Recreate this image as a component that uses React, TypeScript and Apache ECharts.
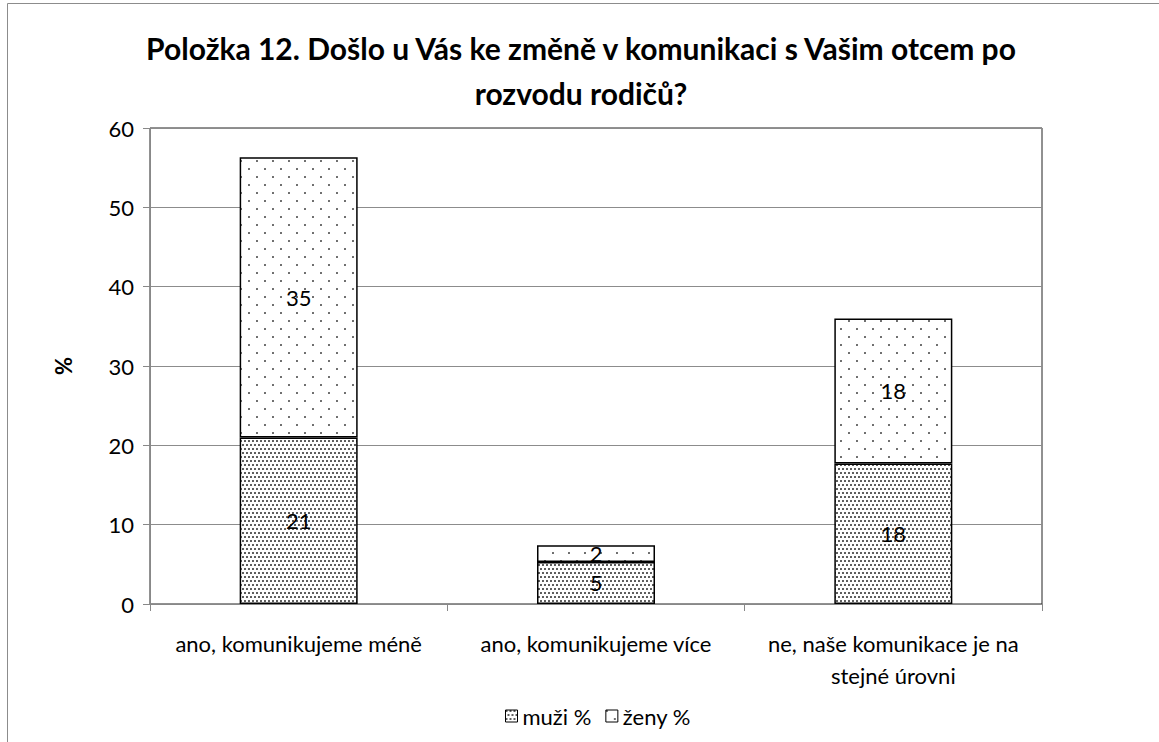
import React, { useEffect, useRef } from "react";
import * as echarts from "echarts";

const titleLines = [
  "Položka 12. Došlo u Vás ke změně v komunikaci s Vašim otcem po",
  "rozvodu rodičů?",
];
const categories = [
  "ano, komunikujeme méně",
  "ano, komunikujeme více",
  "ne, naše komunikace je na\nstejné úrovni",
];
const seriesNames = ["muži %", "ženy %"];
const muzi = [21.0, 5.3, 17.7];
const zeny = [35.3, 2.1, 18.3];
const yTicks = { min: 0, max: 60, interval: 10 };

const FONT = "Lato, 'Open Sans', sans-serif";

function makePattern(w: number, h: number, dots: [number, number][], color: string) {
  const c = document.createElement("canvas");
  c.width = w;
  c.height = h;
  const ctx = c.getContext("2d")!;
  ctx.fillStyle = "#ffffff";
  ctx.fillRect(0, 0, w, h);
  ctx.fillStyle = color;
  dots.forEach(([x, y]) => {
    ctx.beginPath();
    ctx.arc(x + 1, y + 1, 0.95, 0, Math.PI * 2);
    ctx.fill();
  });
  return c;
}

export default function App() {
  const ref = useRef<HTMLDivElement>(null);
  useEffect(() => {
    if (!ref.current) return;
    const chart = echarts.init(ref.current, undefined, { renderer: "svg" });
    const dense = makePattern(4, 8, [[0, 0], [2, 4]], "#1a1a1a");
    const sparse = makePattern(16, 16, [[0, 0], [8, 8]], "#333");
    const labelCfg = {
      show: true,
      position: "inside",
      color: "#000",
      fontSize: 22,
      fontFamily: FONT,
      formatter: (p: any) => String(Math.round(p.value)),
    };
    chart.setOption({
      animation: false,
      backgroundColor: "#fff",
      graphic: [
        {
          type: "rect",
          shape: { x: 7.5, y: 3.5, width: 1300, height: 900 },
          style: { fill: "none", stroke: "#8c8c8c", lineWidth: 1 },
          silent: true,
        },
        ...titleLines.map((t, i) => ({
          type: "text",
          x: 581,
          y: 48 + i * 45,
          style: {
            text: t,
            fill: "#000",
            font: `bold 30px ${FONT}`,
            textAlign: "center",
            textVerticalAlign: "middle",
          },
        })),
      ],
      grid: {
        left: 150,
        top: 128,
        right: 117,
        bottom: 138,
        show: true,
        borderColor: "#222",
        borderWidth: 1,
        backgroundColor: "transparent",
      },
      legend: {
        top: 700,
        left: 500,
        itemWidth: 12,
        itemHeight: 12,
        itemGap: 14,
        data: seriesNames.map((n) => ({ name: n, icon: "rect" })),
        itemStyle: { borderColor: "#000", borderWidth: 1 },
        textStyle: { fontSize: 22, fontFamily: FONT, color: "#000" },
      },
      xAxis: {
        type: "category",
        data: categories,
        axisLine: { lineStyle: { color: "#888", width: 1 } },
        axisTick: { show: true, length: 7, lineStyle: { color: "#888" } },
        axisLabel: {
          interval: 0,
          color: "#000",
          fontSize: 22,
          fontFamily: FONT,
          margin: 23,
          lineHeight: 32,
          verticalAlign: "top",
        },
      },
      yAxis: {
        type: "value",
        min: yTicks.min,
        max: yTicks.max,
        interval: yTicks.interval,
        name: "%",
        nameLocation: "middle",
        nameRotate: 90,
        nameGap: 76,
        nameTextStyle: { fontSize: 22, fontWeight: "bold", fontFamily: FONT, color: "#000" },
        axisLine: { show: true, lineStyle: { color: "#888", width: 1 } },
        axisTick: { show: true, length: 7, lineStyle: { color: "#888" } },
        axisLabel: { color: "#000", fontSize: 22, fontFamily: FONT, margin: 16 },
        splitLine: { show: true, lineStyle: { color: "#8c8c8c", width: 1 } },
      },
      series: [
        {
          name: seriesNames[0],
          type: "bar",
          stack: "total",
          barWidth: 118,
          data: muzi,
          itemStyle: { color: { image: dense, repeat: "repeat" }, borderColor: "#000", borderWidth: 1.5 },
          label: labelCfg,
        },
        {
          name: seriesNames[1],
          type: "bar",
          stack: "total",
          barWidth: 118,
          data: zeny,
          itemStyle: { color: { image: sparse, repeat: "repeat" }, borderColor: "#000", borderWidth: 1.5 },
          label: labelCfg,
        },
      ],
    });
    return () => chart.dispose();
  }, []);
  return (
    <div
      ref={ref}
      style={{ position: "absolute", left: 0, top: 0, width: 1159, height: 742 }}
    />
  );
}
